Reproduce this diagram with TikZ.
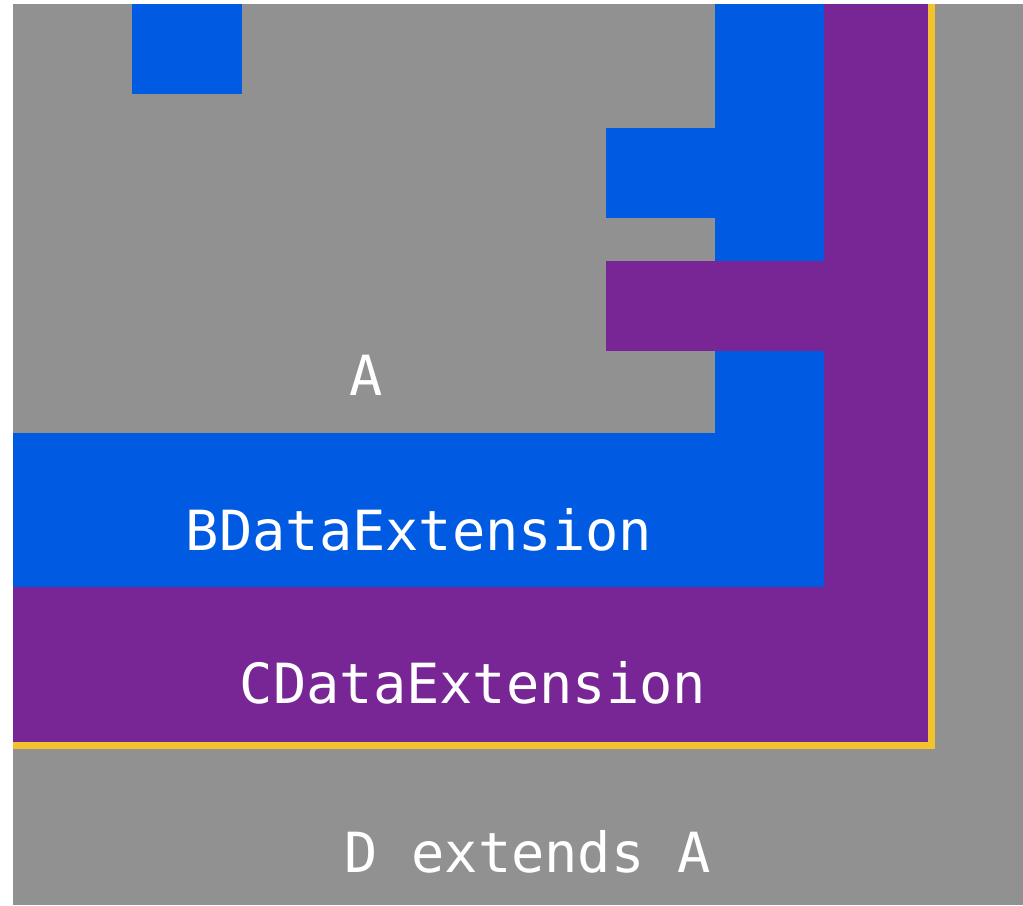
\documentclass[tikz,border=0pt]{standalone}
\usepackage{fontspec}
\newfontfamily\monolabel{DejaVu Sans Mono}
\usetikzlibrary{positioning}
\definecolor{fieldgray}{RGB}{145,145,145}
\definecolor{extblue}{RGB}{0,91,226}
\definecolor{extpurple}{RGB}{120,38,150}
\definecolor{edgeyellow}{RGB}{242,195,46}

\begin{document}
\begin{tikzpicture}[x=1in,y=1in,
  lbl/.style={text=white, font=\monolabel\fontsize{40}{48}\selectfont, anchor=base, inner sep=0pt}]
\useasboundingbox (0,0) rectangle (10.23,9.05);
\fill[white] (0,0) rectangle (10.23,9.05);
\fill[fieldgray] (0.13,0) rectangle (10.23,9.01);
% B blocks
\fill[extblue] (1.32,8.11) rectangle (2.42,9.01);
\fill[extblue] (7.15,3.18) rectangle (8.24,9.01);
\fill[extblue] (6.06,6.87) rectangle (7.15,7.77);
\fill[extblue] (0.13,3.18) rectangle (8.24,4.72);
% C blocks
\fill[extpurple] (8.24,1.63) rectangle (9.28,9.01);
\fill[extpurple] (6.06,5.54) rectangle (8.24,6.44);
\fill[extpurple] (0.13,1.63) rectangle (9.28,3.18);
\draw[edgeyellow, line width=0.07in] (0.13,1.595) -- (9.315,1.595) -- (9.315,9.01);
\node[lbl] (a) at (3.66,5.09) {A};
\node[lbl] (bext) at (4.19,3.54) {BDataExtension};
\node[lbl] (cext) at (4.73,2.01) {CDataExtension};
\node[lbl] (dext) at (5.28,0.33) {D extends A};
\end{tikzpicture}
\end{document}
